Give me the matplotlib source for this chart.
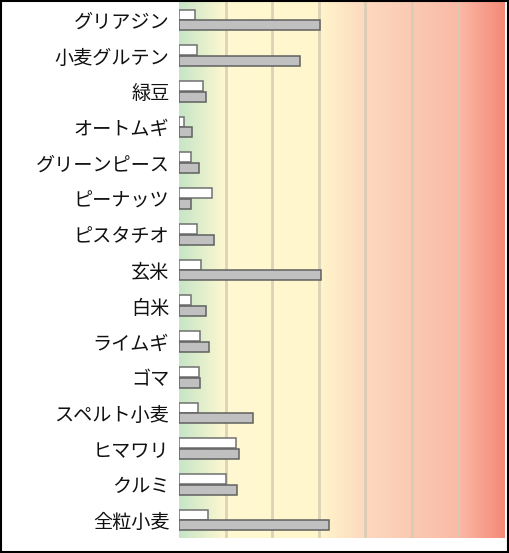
import numpy as np
import matplotlib
matplotlib.use("Agg")
import matplotlib.pyplot as plt
from matplotlib.colors import LinearSegmentedColormap
from matplotlib.patches import Rectangle

categories = ["グリアジン", "小麦グルテン", "緑豆", "オートムギ", "グリーンピース",
              "ピーナッツ", "ピスタチオ", "玄米", "白米", "ライムギ", "ゴマ",
              "スペルト小麦", "ヒマワリ", "クルミ", "全粒小麦"]
series_white = [0.34, 0.38, 0.51, 0.11, 0.25, 0.71, 0.38, 0.48, 0.25, 0.45, 0.42, 0.41, 1.23, 1.01, 0.63]
series_gray = [3.03, 2.59, 0.58, 0.28, 0.44, 0.26, 0.75, 3.04, 0.58, 0.65, 0.45, 1.59, 1.28, 1.24, 3.22]

plt.rcParams['font.family'] = ['Noto Sans CJK JP', 'DejaVu Sans']

fig = plt.figure(figsize=(5.09, 5.53), dpi=100)
ax = fig.add_axes([179/509, 15/553, 326/509, 536/553])

n = len(categories)
xmax = 7.0
ax.set_xlim(0, xmax)
ax.set_ylim(n - 0.5, -0.5)

# background gradient
stops = [(0.0, (0.78, 0.90, 0.78)),
         (1.0/7, (1.0, 0.973, 0.82)),
         (3.0/7, (1.0, 0.965, 0.80)),
         (4.0/7, (0.99, 0.85, 0.75)),
         (6.0/7, (0.98, 0.73, 0.65)),
         (1.0, (0.96, 0.54, 0.47))]
cmap = LinearSegmentedColormap.from_list("bg", stops)
grad = np.linspace(0, 1, 512).reshape(1, -1)
ax.imshow(grad, cmap=cmap, aspect='auto', extent=[0, xmax, n - 0.5, -0.5],
          zorder=0, interpolation='bilinear')

for gx in range(1, 7):
    ax.axvline(gx, color='#d6ccb4', lw=2, alpha=0.85, zorder=1)

y = np.arange(n)
h = 0.28
ax.barh(y - h/2 - 0.01, series_white, height=h, color='white', edgecolor='#707070', lw=1.1, zorder=3)
ax.barh(y + h/2 + 0.01, series_gray, height=h, color='#c0c0c0', edgecolor='#606060', lw=1.1, zorder=3)

ax.set_yticks(y)
ax.set_yticklabels(categories, fontsize=13.8, color='#111111')
ax.tick_params(axis='y', length=0, pad=7)
ax.set_xticks([])
for s in ax.spines.values():
    s.set_visible(False)

fig.patches.append(Rectangle((0.001, 0.001), 0.997, 0.997, transform=fig.transFigure,
                             fill=False, edgecolor='black', lw=1.5))

fig.savefig("out.png", dpi=100)
